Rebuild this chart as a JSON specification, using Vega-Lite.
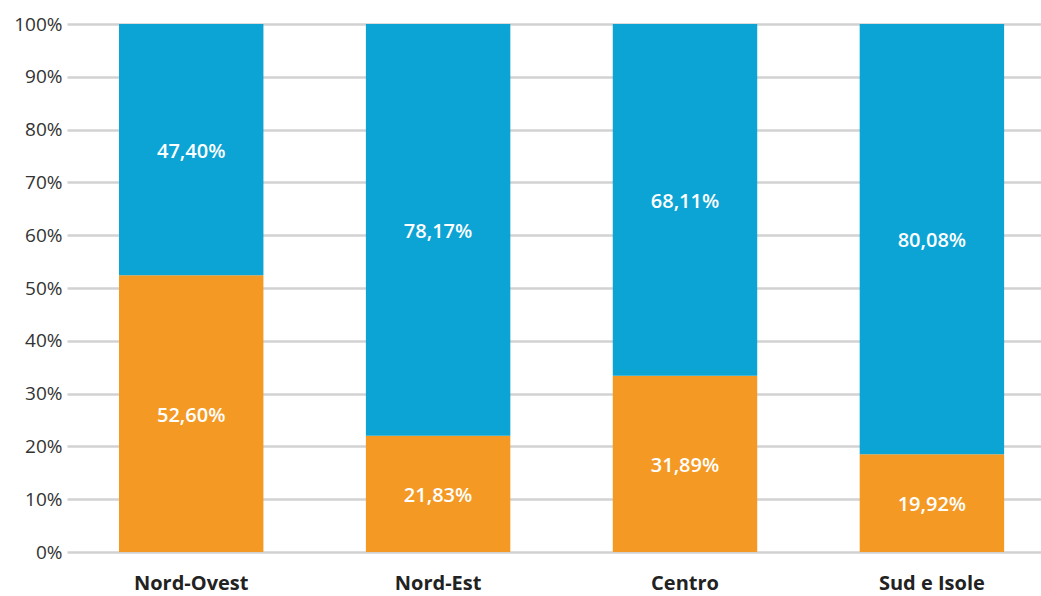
{
  "$schema": "https://vega.github.io/schema/vega-lite/v6.json",
  "width": 974,
  "height": 528,
  "autosize": "none",
  "padding": {"left": 67, "top": 24, "right": 0, "bottom": 44},
  "background": "white",
  "config": {"view": {"stroke": null}, "font": "Open Sans"},
  "data": {
    "values": [
      {"region": "Nord-Ovest", "grp": "a", "ord": 1, "value": 52.4, "label": "52,60%"},
      {"region": "Nord-Ovest", "grp": "b", "ord": 2, "value": 47.6, "label": "47,40%"},
      {"region": "Nord-Est", "grp": "a", "ord": 1, "value": 22.0, "label": "21,83%"},
      {"region": "Nord-Est", "grp": "b", "ord": 2, "value": 78.0, "label": "78,17%"},
      {"region": "Centro", "grp": "a", "ord": 1, "value": 33.4, "label": "31,89%"},
      {"region": "Centro", "grp": "b", "ord": 2, "value": 66.6, "label": "68,11%"},
      {"region": "Sud e Isole", "grp": "a", "ord": 1, "value": 18.5, "label": "19,92%"},
      {"region": "Sud e Isole", "grp": "b", "ord": 2, "value": 81.5, "label": "80,08%"}
    ]
  },
  "encoding": {
    "x": {
      "field": "region",
      "type": "nominal",
      "sort": ["Nord-Ovest", "Nord-Est", "Centro", "Sud e Isole"],
      "scale": {"paddingInner": 0.415, "paddingOuter": 0.18, "align": 0.585},
      "axis": {
        "title": null,
        "labelAngle": 0,
        "domain": false,
        "ticks": false,
        "labelFont": "Open Sans",
        "labelFontSize": 20,
        "labelFontWeight": "bold",
        "labelColor": "#222222",
        "labelPadding": 21
      }
    },
    "y": {
      "field": "value",
      "type": "quantitative",
      "stack": "zero",
      "scale": {"domain": [0, 100]},
      "axis": {
        "title": null,
        "values": [0, 10, 20, 30, 40, 50, 60, 70, 80, 90, 100],
        "labelExpr": "datum.value + '%'",
        "domain": false,
        "ticks": false,
        "gridColor": "#d2d2d2",
        "gridWidth": 2.5,
        "labelFont": "Open Sans",
        "labelFontSize": 19,
        "labelColor": "#333333",
        "labelPadding": 5
      }
    },
    "order": {"field": "ord", "type": "quantitative"}
  },
  "layer": [
    {
      "mark": {"type": "bar"},
      "encoding": {
        "color": {
          "field": "grp",
          "type": "nominal",
          "scale": {"domain": ["a", "b"], "range": ["#F49A24", "#0CA4D5"]},
          "legend": null
        }
      }
    },
    {
      "mark": {"type": "text", "color": "white", "font": "Open Sans", "fontSize": 20, "fontWeight": 600, "baseline": "middle", "dy": 2},
      "encoding": {
        "y": {"field": "value", "type": "quantitative", "stack": "zero", "bandPosition": 0.5},
        "text": {"field": "label"}
      }
    }
  ]
}
